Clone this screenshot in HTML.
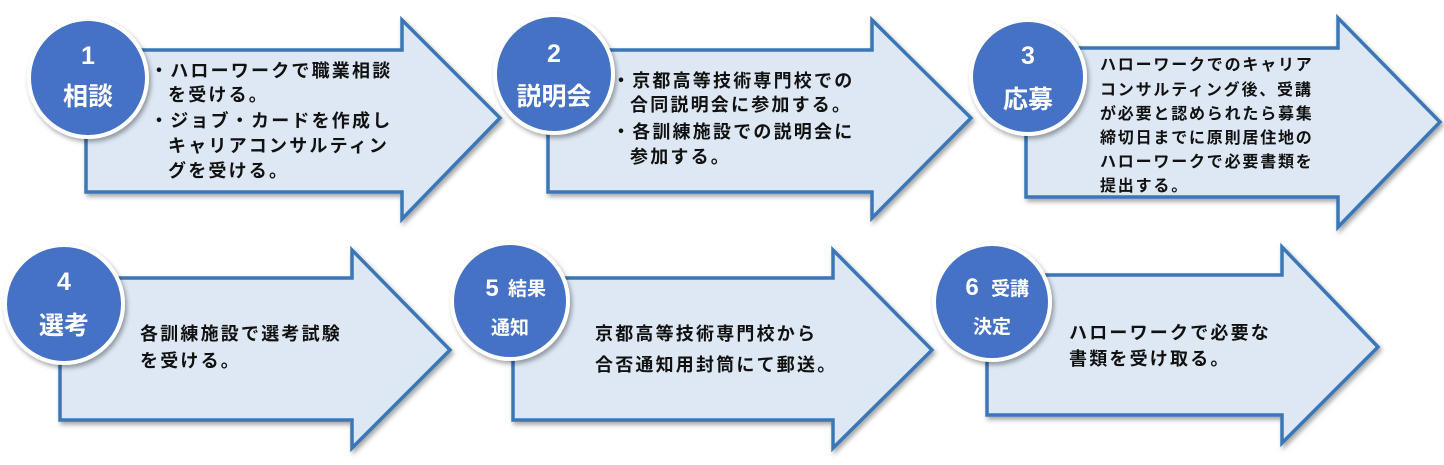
<!DOCTYPE html>
<html><head><meta charset="utf-8"><style>
html,body{margin:0;padding:0;background:#fff;}
svg text{font-family:"Liberation Sans","Noto Sans CJK JP",sans-serif;}
</style></head><body>
<svg width="1444" height="460" viewBox="0 0 1444 460" xmlns="http://www.w3.org/2000/svg">
<defs>
<filter id="sh" x="-10%" y="-10%" width="130%" height="130%"><feDropShadow dx="2" dy="3" stdDeviation="2.5" flood-color="#000" flood-opacity="0.35"/></filter>
</defs>
<g fill="#dde8f4" stroke="#3b77b6" stroke-width="3.5" stroke-linejoin="miter" filter="url(#sh)">
<polygon points="86,50 402,50 402,20 500,118 402,219 402,192 86,192"/>
<polygon points="548,50 872,50 872,20 971,118 872,218 872,192 548,192"/>
<polygon points="1026,48 1338,48 1338,18 1440,122 1338,227 1338,197 1026,197"/>
<polygon points="60,278 352,278 352,250 450,350 352,448 352,420 60,420"/>
<polygon points="513,278 833,278 833,250 932,350 833,448 833,420 513,420"/>
<polygon points="987,275 1282,275 1282,247 1378,347 1282,443 1282,415 987,415"/>
</g>
<g fill="#4472c4" stroke="#fff" stroke-width="4" filter="url(#sh)">
<circle cx="88" cy="78" r="59"/>
<circle cx="554" cy="74" r="59"/>
<circle cx="1028" cy="77" r="57"/>
<circle cx="64" cy="304" r="59"/>
<circle cx="510" cy="301" r="58"/>
<circle cx="992" cy="302" r="58"/>
</g>
<g fill="#fff" font-weight="bold" text-anchor="middle">
<text x="88" y="64" font-size="25">1</text>
<text x="88" y="105" font-size="25">相談</text>
<text x="554" y="62" font-size="25">2</text>
<text x="554" y="105" font-size="25">説明会</text>
<text x="1028" y="64" font-size="25">3</text>
<text x="1028" y="108" font-size="25">応募</text>
<text x="64" y="290" font-size="25">4</text>
<text x="64" y="334" font-size="25">選考</text>
<text x="492" y="296" font-size="24">5</text>
<text x="527" y="295" font-size="19">結果</text>
<text x="510" y="334" font-size="19">通知</text>
<text x="972" y="295" font-size="24">6</text>
<text x="1010" y="295" font-size="19">受講</text>
<text x="992" y="333" font-size="19">決定</text>
</g>
<g fill="#111" font-size="18" font-weight="bold" letter-spacing="2.2">
<text x="150" y="77">・ハローワークで職業相談</text>
<text x="168" y="101">を受ける。</text>
<text x="150" y="127">・ジョブ・カードを作成し</text>
<text x="168" y="152">キャリアコンサルティン</text>
<text x="168" y="177">グを受ける。</text>
<text x="612" y="87">・京都高等技術専門校での</text>
<text x="630" y="111">合同説明会に参加する。</text>
<text x="612" y="138">・各訓練施設での説明会に</text>
<text x="630" y="163">参加する。</text>
</g>
<g fill="#111" font-size="16" font-weight="bold" letter-spacing="1.8">
<text x="1100" y="70">ハローワークでのキャリア</text>
<text x="1100" y="95">コンサルティング後、受講</text>
<text x="1100" y="119">が必要と認められたら募集</text>
<text x="1100" y="143">締切日までに原則居住地の</text>
<text x="1100" y="167">ハローワークで必要書類を</text>
<text x="1100" y="191">提出する。</text>
</g>
<g fill="#111" font-size="18" font-weight="bold" letter-spacing="2.2">
<text x="140" y="340">各訓練施設で選考試験</text>
<text x="140" y="367">を受ける。</text>
<text x="595" y="340">京都高等技術専門校から</text>
<text x="595" y="371">合否通知用封筒にて郵送。</text>
<text x="1069" y="339">ハローワークで必要な</text>
<text x="1069" y="365">書類を受け取る。</text>
</g>
</svg>
</body></html>
